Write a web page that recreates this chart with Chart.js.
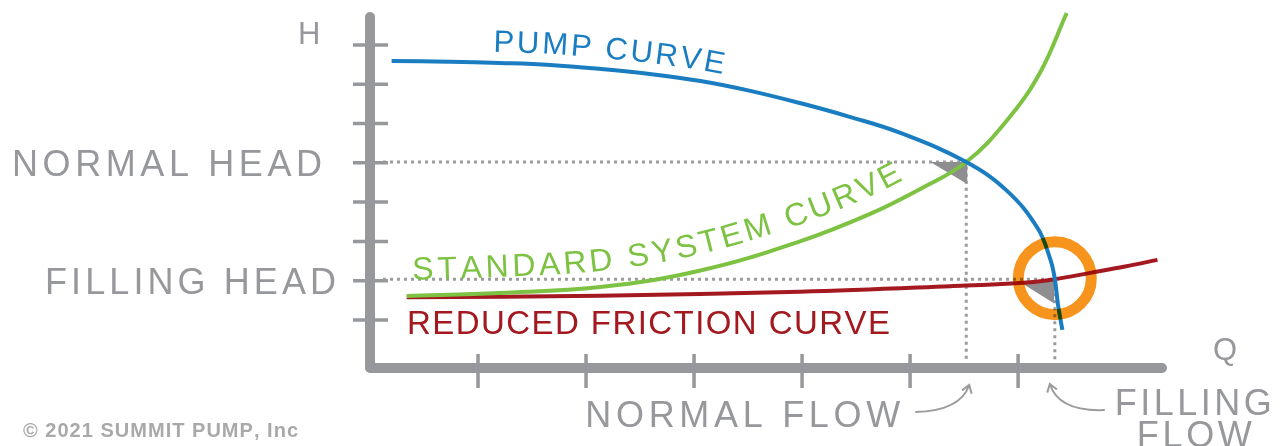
<!DOCTYPE html>
<html>
<head>
<meta charset="utf-8">
<script src="https://cdn.jsdelivr.net/npm/chart.js@4"></script>
<style>
  html, body { margin: 0; padding: 0; background: #fff; }
  #wrap { width: 1281px; height: 446px; position: relative; }
</style>
</head>
<body>
<div id="wrap"><canvas id="chart-pump"></canvas></div>
<script>
// axis ticks (arbitrary units)
const xTicks = [1, 2, 3, 4, 5, 6];
const yTicks = [1, 2, 3, 4, 5, 6, 7, 8];

// curves as {x: flow, y: head}
const pumpCurve = [
  { x: 0.20, y: 7.59 }, { x: 0.74, y: 7.57 }, { x: 1.20, y: 7.54 }, { x: 1.67, y: 7.49 },
  { x: 2.13, y: 7.39 }, { x: 2.59, y: 7.26 }, { x: 3.06, y: 7.08 }, { x: 3.52, y: 6.83 },
  { x: 3.98, y: 6.52 }, { x: 4.44, y: 6.17 }, { x: 4.91, y: 5.76 }, { x: 5.52, y: 5.02 },
  { x: 5.90, y: 4.28 }, { x: 6.18, y: 3.34 }, { x: 6.30, y: 2.53 }, { x: 6.34, y: 2.04 },
  { x: 6.37, y: 1.38 }, { x: 6.41, y: 0.75 }
];
const systemCurve = [
  { x: 0.34, y: 1.61 }, { x: 1.20, y: 1.69 }, { x: 2.13, y: 1.84 }, { x: 3.06, y: 2.26 },
  { x: 3.98, y: 3.00 }, { x: 4.63, y: 3.70 }, { x: 5.09, y: 4.33 }, { x: 5.52, y: 5.02 },
  { x: 5.90, y: 6.09 }, { x: 6.20, y: 7.28 }, { x: 6.45, y: 8.81 }
];
const frictionCurve = [
  { x: 0.34, y: 1.58 }, { x: 2.13, y: 1.62 }, { x: 3.98, y: 1.72 }, { x: 5.37, y: 1.86 },
  { x: 6.05, y: 1.95 }, { x: 6.34, y: 2.04 }, { x: 6.67, y: 2.20 }, { x: 6.99, y: 2.36 },
  { x: 7.29, y: 2.53 }
];

// operating points
const normalPoint = { x: 5.52, y: 5.02 };
const fillingPoint = { x: 6.34, y: 2.04 };

const GRAY = '#97989c';
const FONT = "'Liberation Sans', Arial, sans-serif";

function smooth(p) {
  const out = [];
  for (let i = 0; i < p.length - 1; i++) {
    const p0 = p[i - 1] || p[i], p1 = p[i], p2 = p[i + 1], p3 = p[i + 2] || p[i + 1];
    for (let k = 0; k < 12; k++) {
      const t = k / 12, t2 = t * t, t3 = t2 * t;
      const f = (a, b, c, d) => 0.5 * (2 * b + (-a + c) * t + (2 * a - 5 * b + 4 * c - d) * t2 + (-a + 3 * b - 3 * c + d) * t3);
      out.push({ x: f(p0.x, p1.x, p2.x, p3.x), y: f(p0.y, p1.y, p2.y, p3.y) });
    }
  }
  out.push(p[p.length - 1]);
  return out;
}

function textOnPath(ctx, pts, text, startX, offset, spacing) {
  const cum = [0];
  for (let i = 1; i < pts.length; i++) {
    cum.push(cum[i - 1] + Math.hypot(pts[i].x - pts[i - 1].x, pts[i].y - pts[i - 1].y));
  }
  const at = (s) => {
    let i = 1;
    while (i < pts.length - 1 && cum[i] < s) i++;
    const a = pts[i - 1], b = pts[i];
    const t = (s - cum[i - 1]) / (cum[i] - cum[i - 1] || 1);
    return { x: a.x + (b.x - a.x) * t, y: a.y + (b.y - a.y) * t, ang: Math.atan2(b.y - a.y, b.x - a.x) };
  };
  let s = 0;
  for (let i = 1; i < pts.length; i++) {
    if (pts[i].x >= startX) {
      const t = (startX - pts[i - 1].x) / (pts[i].x - pts[i - 1].x);
      s = cum[i - 1] + t * (cum[i] - cum[i - 1]);
      break;
    }
  }
  for (const ch of text) {
    const w = ctx.measureText(ch).width;
    const p = at(s + w / 2);
    ctx.save();
    ctx.translate(p.x + Math.sin(p.ang) * offset, p.y - Math.cos(p.ang) * offset);
    ctx.rotate(p.ang);
    ctx.fillText(ch, -w / 2, 0);
    ctx.restore();
    s += w + spacing;
  }
}

function spaced(ctx, text, left, base, width) {
  const chars = [...text];
  const total = chars.reduce((a, c) => a + ctx.measureText(c).width, 0);
  const gap = chars.length > 1 ? (width - total) / (chars.length - 1) : 0;
  let xx = left;
  for (const c of chars) {
    ctx.fillText(c, xx, base);
    xx += ctx.measureText(c).width + gap;
  }
}

function arrow(ctx, x0, y0, cx, cy, x1, y1) {
  ctx.beginPath();
  ctx.moveTo(x0, y0);
  ctx.quadraticCurveTo(cx, cy, x1, y1);
  const a = Math.atan2(y1 - cy, x1 - cx);
  ctx.moveTo(x1 - 9 * Math.cos(a - 0.6), y1 - 9 * Math.sin(a - 0.6));
  ctx.lineTo(x1, y1);
  ctx.lineTo(x1 - 9 * Math.cos(a + 0.6), y1 - 9 * Math.sin(a + 0.6));
  ctx.stroke();
}

const diagram = {
  id: 'diagram',
  beforeDatasetsDraw(chart) {
    const { ctx, chartArea: area, scales: { x, y } } = chart;
    const x0 = x.getPixelForValue(0);
    const y0 = y.getPixelForValue(y.min);
    ctx.save();

    // axes
    ctx.strokeStyle = GRAY;
    ctx.lineCap = 'round';
    ctx.lineJoin = 'round';
    ctx.lineWidth = 10;
    ctx.beginPath();
    ctx.moveTo(x0, area.top + 2);
    ctx.lineTo(x0, y0);
    ctx.lineTo(area.right - 3, y0);
    ctx.stroke();

    ctx.lineCap = 'butt';
    ctx.lineWidth = 3.5;
    ctx.beginPath();
    for (const v of yTicks) {
      const py = y.getPixelForValue(v);
      ctx.moveTo(x0 - 17, py);
      ctx.lineTo(x0 + 18, py);
    }
    for (const v of xTicks) {
      const px = x.getPixelForValue(v);
      ctx.moveTo(px, y0 - 14);
      ctx.lineTo(px, y0 + 20);
    }
    ctx.stroke();

    // dotted guides
    ctx.strokeStyle = '#9c9c9f';
    ctx.lineWidth = 3;
    ctx.setLineDash([3, 4]);
    for (const p of [normalPoint, fillingPoint]) {
      const px = x.getPixelForValue(p.x), py = y.getPixelForValue(p.y);
      ctx.beginPath();
      ctx.moveTo(x0 + 13, py);
      ctx.lineTo(px, py);
      ctx.lineTo(px, y0 - 8);
      ctx.stroke();
    }
    ctx.setLineDash([]);

    // grey wedges at the operating points
    ctx.fillStyle = '#8e8e91';
    let px = x.getPixelForValue(normalPoint.x), py = y.getPixelForValue(normalPoint.y);
    ctx.beginPath();
    ctx.moveTo(px - 36, py);
    ctx.lineTo(px + 1, py);
    ctx.lineTo(px + 1, py + 22);
    ctx.closePath();
    ctx.fill();
    px = x.getPixelForValue(fillingPoint.x); py = y.getPixelForValue(fillingPoint.y);
    ctx.beginPath();
    ctx.moveTo(px - 33, py + 4);
    ctx.lineTo(px, py + 1);
    ctx.lineTo(px - 1, py + 24);
    ctx.closePath();
    ctx.fill();
    ctx.restore();
  },
  afterDatasetsDraw(chart) {
    const { ctx, chartArea: area, scales: { x, y } } = chart;
    const x0 = x.getPixelForValue(0);
    const y0 = y.getPixelForValue(y.min);
    ctx.save();

    // orange ring around the filling point
    ctx.globalCompositeOperation = 'multiply';
    ctx.strokeStyle = '#f7941d';
    ctx.lineWidth = 11;
    ctx.beginPath();
    ctx.arc(x.getPixelForValue(fillingPoint.x), y.getPixelForValue(fillingPoint.y) - 1, 36.5, 0, Math.PI * 2);
    ctx.stroke();
    ctx.globalCompositeOperation = 'source-over';

    // curve labels
    const toPx = (d) => smooth(d.map(p => ({ x: x.getPixelForValue(p.x), y: y.getPixelForValue(p.y) })));
    ctx.textBaseline = 'alphabetic';
    ctx.font = `31px ${FONT}`;
    ctx.fillStyle = '#1a7dc1';
    textOnPath(ctx, toPx(pumpCurve), 'PUMP CURVE', 493, 11, 2.5);
    ctx.fillStyle = '#7dc242';
    ctx.font = `32px ${FONT}`;
    textOnPath(ctx, toPx(systemCurve), 'STANDARD SYSTEM CURVE', 413, 16, 3.8);
    ctx.fillStyle = '#a3191f';
    ctx.font = `33px ${FONT}`;
    spaced(ctx, 'REDUCED FRICTION CURVE', 407, 334, 483);

    // grey axis labels
    ctx.fillStyle = GRAY;
    ctx.font = `31px ${FONT}`;
    spaced(ctx, 'H', x0 - 72, 44, 20);
    spaced(ctx, 'Q', area.right + 48, y0 - 8, 27);
    ctx.font = `36px ${FONT}`;
    const nh = y.getPixelForValue(normalPoint.y);
    const fh = y.getPixelForValue(fillingPoint.y);
    spaced(ctx, 'NORMAL HEAD', 12, nh + 14, 310);
    spaced(ctx, 'FILLING HEAD', 45, fh + 15, 291);
    const nf = x.getPixelForValue(normalPoint.x);
    const ff = x.getPixelForValue(fillingPoint.x);
    spaced(ctx, 'NORMAL FLOW', nf - 381, 427, 315);
    spaced(ctx, 'FILLING', ff + 60, 415, 157);
    spaced(ctx, 'FLOW', ff + 82, 447, 115);

    ctx.strokeStyle = '#9c9c9f';
    ctx.lineWidth = 2;
    arrow(ctx, nf - 51, 412, nf - 6, 411, nf + 3, y0 + 17);
    arrow(ctx, ff + 50, 410, ff + 4, 412, ff - 5, y0 + 16);

    ctx.fillStyle = '#a9a9ab';
    ctx.font = `bold 20px ${FONT}`;
    spaced(ctx, '\u00A9 2021 SUMMIT PUMP, Inc', 23, 437, 275);
    ctx.restore();
  }
};

const ctx = document.getElementById('chart-pump');
new Chart(ctx, {
  type: 'scatter',
  data: {
    datasets: [
      { label: 'Pump curve', data: pumpCurve, borderColor: '#1a7dc1' },
      { label: 'Standard system curve', data: systemCurve, borderColor: '#7dc242' },
      { label: 'Reduced friction curve', data: frictionCurve, borderColor: '#a3191f' }
    ].map(ds => ({
      ...ds,
      showLine: true,
      borderWidth: 4,
      pointRadius: 0,
      tension: 0.4,
      clip: false
    }))
  },
  options: {
    responsive: true,
    maintainAspectRatio: false,
    animation: false,
    layout: { padding: { left: 370, top: 15, right: 116, bottom: 78 } },
    plugins: { legend: { display: false }, tooltip: { enabled: false } },
    scales: {
      x: { type: 'linear', display: false, min: 0, max: 7.36 },
      y: { type: 'linear', display: false, min: -0.22, max: 8.76 }
    }
  },
  plugins: [diagram]
});
</script>
</body>
</html>
